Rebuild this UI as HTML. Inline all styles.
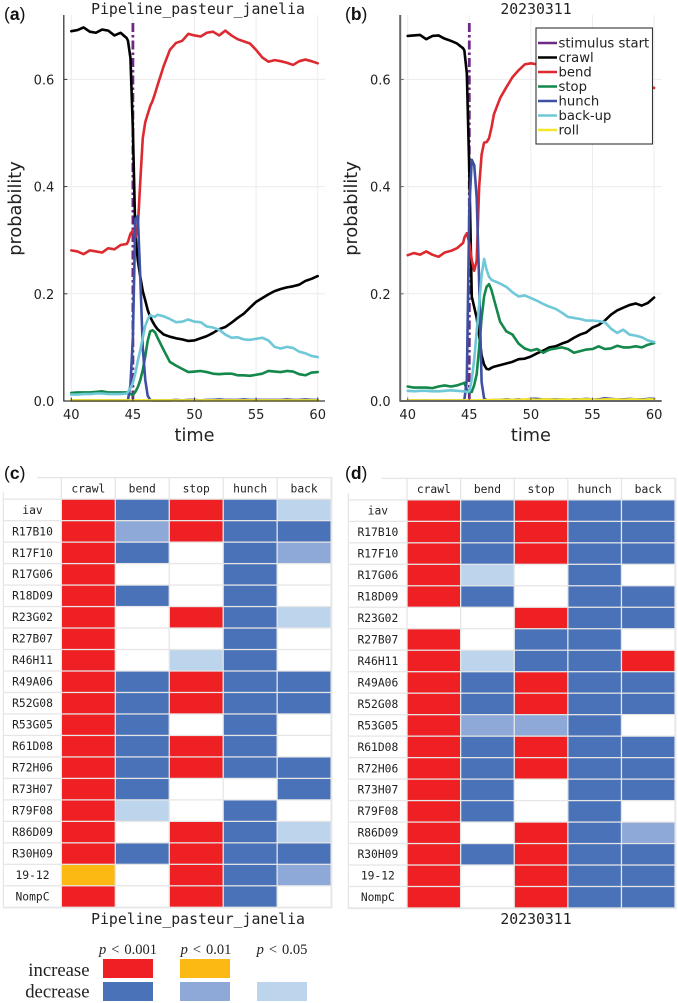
<!DOCTYPE html>
<html lang="en">
<head>
<meta charset="utf-8">
<title>Behaviour probability over time and significance tables</title>
<style>
html,body{margin:0;padding:0;background:#fff;width:678px;height:1003px;overflow:hidden}
svg{display:block;filter:blur(0.3px)}
.tick{font-family:"DejaVu Sans",sans-serif;font-size:13px;fill:#222}
.axis-title{font-family:"DejaVu Sans",sans-serif;font-size:17.7px;fill:#222}
.mono-title{font-family:"DejaVu Sans Mono",monospace;font-size:14.8px;fill:#222}
.mono{font-family:"DejaVu Sans Mono",monospace;font-size:11.3px;fill:#222}
.legend-text{font-family:"DejaVu Sans",sans-serif;font-size:13.2px;fill:#222}
.panel{font-family:"Liberation Sans",sans-serif;font-size:17.5px;fill:#111}
.panel tspan.b{font-weight:bold}
.key-row{font-family:"Liberation Serif",serif;font-size:18.7px;fill:#222}
.key-col{font-family:"Liberation Serif",serif;font-size:14.5px;fill:#222}
</style>
</head>
<body>
<svg id="figure" xmlns="http://www.w3.org/2000/svg" width="678" height="1003" viewBox="0 0 678 1003">
  <rect width="678" height="1003" fill="#ffffff"/>
  <text class="panel" x="4" y="20">(<tspan class="b">a</tspan>)</text>
  <text class="panel" x="345" y="20">(<tspan class="b">b</tspan>)</text>
  <text class="panel" x="4" y="479">(<tspan class="b">c</tspan>)</text>
  <text class="panel" x="345" y="479">(<tspan class="b">d</tspan>)</text>
</svg>
<script>
const timeGrid = [40,40.5,41,41.5,42,42.5,43,43.5,44,44.5,
  44.6,44.8,45,45.2,45.4,45.6,45.8,46,46.2,46.4,46.6,46.8,47,
  47.5,48,48.5,49,49.5,50,50.5,51,51.5,52,52.5,53,53.5,54,54.5,55,55.5,56,56.5,57,57.5,58,58.5,59,59.5,60];
const xTickValues = [40,45,50,55,60];
const yTickValues = [0,0.2,0.4,0.6];
const yTickLabels = ['0.0','0.2','0.4','0.6'];
const stimulusStart = 45;

const panelACrawl = [.690,.692,.697,.689,.687,.693,.691,.682,.687,.677,
  .672,.640,.505,.310,.262,.232,.205,.188,.170,.157,.148,.140,.134,
  .124,.120,.117,.115,.112,.113,.117,.121,.127,.134,.138,.146,.155,.163,.174,.185,.192,.199,.205,.209,.212,.214,.217,.224,.228,.233];
const panelABend = [.281,.279,.274,.281,.279,.277,.285,.283,.291,.293,
  .297,.312,.318,.305,.325,.41,.49,.52,.535,.55,.56,.574,.589,
  .625,.655,.668,.672,.685,.682,.680,.687,.689,.682,.691,.682,.675,.671,.667,.655,.641,.633,.636,.634,.631,.627,.634,.637,.634,.630];
const panelAStop = [.015,.016,.016,.016,.017,.018,.016,.016,.016,.016,
  .015,.013,.011,.017,.026,.039,.058,.083,.112,.130,.132,.128,.118,
  .095,.073,.066,.060,.054,.055,.056,.054,.051,.050,.051,.051,.048,.048,.047,.049,.051,.056,.055,.054,.056,.055,.050,.048,.053,.054];
const panelAHunch = [.001,.001,.001,.001,.001,.001,.001,.001,.001,.001,
  .002,.03,.12,.34,.345,.23,.10,.04,.01,.002,.001,.001,.001,
  .001,.001,.002,.001,.002,.002,.001,.002,.002,.003,.002,.002,.002,.003,.002,.002,.002,.002,.002,.002,.003,.002,.002,.003,.002,.002];
const panelABackUp = [.012,.012,.013,.013,.014,.014,.013,.013,.013,.014,
  .017,.024,.034,.052,.075,.095,.118,.140,.152,.160,.158,.157,.161,
  .158,.153,.147,.148,.152,.148,.147,.139,.137,.133,.124,.118,.119,.115,.114,.116,.118,.113,.101,.098,.101,.099,.092,.089,.084,.082];
const panelARoll = [.001,.001,.001,.001,.001,.001,.001,.001,.001,.001,
  .001,.001,.001,.001,.001,.001,.001,.001,.001,.001,.001,.001,.001,
  .001,.001,.001,.001,.001,.001,.001,.001,.001,.001,.001,.001,.001,.001,.001,.001,.001,.001,.001,.001,.001,.001,.001,.001,.001,.001];

const panelBCrawl = [.681,.682,.683,.675,.681,.682,.676,.672,.667,.658,
  .654,.611,.43,.195,.175,.155,.122,.085,.068,.06,.059,.062,.064,
  .067,.070,.073,.078,.079,.083,.089,.094,.100,.102,.107,.111,.118,.124,.128,.137,.142,.150,.161,.169,.174,.179,.182,.178,.183,.193];
const panelBBend = [.272,.276,.273,.279,.273,.269,.277,.280,.285,.295,
  .305,.313,.295,.263,.243,.262,.40,.46,.482,.483,.49,.51,.535,
  .565,.585,.604,.617,.628,.630,.628,.632,.629,.625,.620,.618,.615,.612,.610,.606,.605,.600,.598,.600,.596,.594,.590,.592,.588,.584];
const panelBStop = [.027,.025,.025,.025,.024,.027,.029,.027,.029,.033,
  .034,.021,.016,.017,.03,.05,.10,.155,.195,.213,.218,.207,.19,
  .148,.130,.124,.107,.098,.094,.097,.090,.096,.098,.100,.097,.090,.093,.096,.097,.102,.097,.098,.103,.100,.100,.102,.100,.105,.108];
const panelBHunch = [.001,.001,.001,.001,.001,.001,.001,.001,.001,.001,
  .002,.04,.36,.45,.44,.38,.22,.035,.005,.002,.001,.001,.002,
  .002,.003,.002,.003,.002,.004,.004,.003,.003,.003,.003,.002,.003,.003,.004,.003,.003,.005,.004,.003,.003,.004,.003,.003,.004,.004];
const panelBBackUp = [.019,.018,.019,.019,.018,.018,.019,.020,.019,.018,
  .018,.017,.018,.040,.078,.130,.180,.235,.265,.245,.232,.226,.224,
  .219,.213,.203,.195,.197,.192,.187,.181,.176,.172,.165,.157,.155,.153,.150,.150,.149,.147,.135,.127,.133,.124,.122,.119,.113,.110];
const panelBRoll = [.001,.001,.001,.001,.001,.001,.001,.001,.001,.001,
  .001,.001,.001,.001,.001,.001,.001,.001,.001,.002,.002,.002,.002,
  .002,.002,.002,.002,.003,.003,.002,.003,.003,.002,.003,.003,.002,.003,.003,.003,.002,.003,.003,.003,.002,.003,.003,.002,.003,.003];

const legendLabels = ['stimulus start','crawl','bend','stop','hunch','back-up','roll'];
const seriesColors = ['#6d2a84','#000000','#dc2a30','#14874a','#3e50a2','#6fc8d8','#f4e62a'];

const columnNames = ['crawl','bend','stop','hunch','back'];
const rowNames = ['iav','R17B10','R17F10','R17G06','R18D09','R23G02','R27B07','R46H11','R49A06','R52G08','R53G05','R61D08','R72H06','R73H07','R79F08','R86D09','R30H09','19-12','NompC'];
const tableC = [
  [3,-3,3,-3,-1],[3,-2,3,-3,-3],[3,-3,0,-3,-2],[3,0,0,-3,0],[3,-3,0,-3,0],[3,0,3,-3,-1],[3,0,0,-3,0],[3,0,-1,-3,0],
  [3,-3,3,-3,-3],[3,-3,3,-3,-3],[3,-3,0,-3,0],[3,-3,3,-3,0],[3,-3,3,-3,-3],[3,-3,0,0,-3],[3,-1,0,-3,0],[3,0,3,-3,-1],
  [3,-3,3,-3,-3],[2,0,3,-3,-2],[3,0,3,-3,0]];
const tableD = [
  [3,-3,3,-3,-3],[3,-3,3,-3,-3],[3,-3,3,-3,-3],[3,-1,0,-3,0],[3,-3,0,-3,-3],[0,0,3,-3,-3],[3,0,-3,-3,0],[3,-1,-3,-3,3],
  [3,-3,3,-3,-3],[3,-3,3,-3,-3],[3,-2,-2,-3,0],[3,-3,3,-3,-3],[3,-3,3,-3,-3],[3,-3,0,-3,-3],[3,-3,0,-3,0],[3,0,3,-3,-2],
  [3,-3,3,-3,-3],[3,0,3,-3,-3],[3,0,3,-3,-3]];

const NS = 'http://www.w3.org/2000/svg';
const svg = document.getElementById('figure');
function mk(tag, attrs, parent) {
  const e = document.createElementNS(NS, tag);
  for (const k in attrs) e.setAttribute(k, attrs[k]);
  (parent || svg).appendChild(e);
  return e;
}
function cellColor(code) {
  if (code === 3) return '#ee2024';
  if (code === 2) return '#fdb913';
  if (code === -3) return '#4a72b8';
  if (code === -2) return '#8ea8d8';
  if (code === -1) return '#bcd5ec';
  return '#ffffff';
}

function drawLinePanel(id, cfg, series) {
  const g = mk('g', {});
  
  
  const xScale = t => cfg.x40 + (t - 40) * 12.32;
  const yScale = v => 401 - 536 * v;

  xTickValues.forEach(t => {
    const line = mk('line', {x1: xScale(t), x2: xScale(t), y1: 15, y2: 401, stroke: '#ececec', 'stroke-width': 1}, g);
    
    
  });
  yTickValues.forEach(v => {
    const line = mk('line', {x1: cfg.axisX, x2: cfg.axisRight, y1: yScale(v), y2: yScale(v), stroke: '#ececec', 'stroke-width': 1}, g);
    
    
  });

  const stim = mk('line', {x1: xScale(stimulusStart), x2: xScale(stimulusStart), y1: 23, y2: 401, stroke: seriesColors[0], 'stroke-width': 2.8, 'stroke-dasharray': '9 3 2.5 3'}, g);
  
  

  series.forEach((values, i) => {
    const d = values.map((v, j) => (j ? 'L' : 'M') + xScale(timeGrid[j]).toFixed(2) + ' ' + yScale(v).toFixed(2)).join('');
    const p = mk('path', {d: d, fill: 'none', stroke: seriesColors[i + 1], 'stroke-width': 2.6, 'stroke-linejoin': 'round', 'stroke-linecap': 'round'}, g);
    
    
  });

  const yAxis = mk('line', {x1: cfg.axisX, x2: cfg.axisX, y1: 15, y2: 401.6, stroke: cfg.axisColor, 'stroke-width': cfg.axisWidth}, g);
  
  
  const xAxis = mk('line', {x1: cfg.axisX, x2: cfg.axisRight, y1: 401, y2: 401, stroke: cfg.axisColor, 'stroke-width': cfg.axisWidth}, g);
  
  

  xTickValues.forEach(t => {
    const tick = mk('line', {x1: xScale(t), x2: xScale(t), y1: 401, y2: 397.5, stroke: cfg.axisColor, 'stroke-width': 1}, g);
    
    
    const lab = mk('text', {x: xScale(t), y: 419, 'text-anchor': 'middle', class: 'tick'}, g);
    
    
    lab.textContent = String(t);
  });
  yTickValues.forEach((v, i) => {
    const tick = mk('line', {x1: cfg.axisX, x2: cfg.axisX + 3.5, y1: yScale(v), y2: yScale(v), stroke: cfg.axisColor, 'stroke-width': 1}, g);
    
    
    const lab = mk('text', {x: cfg.axisX - 9.5, y: yScale(v) + 5, 'text-anchor': 'end', class: 'tick'}, g);
    
    
    lab.textContent = yTickLabels[i];
  });

  const xTitle = mk('text', {x: xScale(50), y: 441, 'text-anchor': 'middle', class: 'axis-title'}, g);
  
  
  xTitle.textContent = 'time';

  const yTitle = mk('text', {x: 0, y: 0, 'text-anchor': 'middle', class: 'axis-title', transform: 'translate(' + cfg.yTitleX + ' 208.5) rotate(-90)'}, g);
  
  
  yTitle.textContent = 'probability';

  const title = mk('text', {x: cfg.titleX, y: 14, 'text-anchor': 'middle', class: 'mono-title'}, g);
  
  
  title.textContent = cfg.title;
}

function drawLegend() {
  const g = mk('g', {});
  
  
  const box = mk('rect', {x: 536, y: 28, width: 116.5, height: 116, fill: '#fff', stroke: '#333', 'stroke-width': 1.1}, g);
  
  
  legendLabels.forEach((name, i) => {
    const y = 43 + i * 14.5;
    const sw = mk('line', {x1: 538, x2: 557, y1: y, y2: y, stroke: seriesColors[i], 'stroke-width': 2.6}, g);
    
    
    const t = mk('text', {x: 558.5, y: y + 4.6, class: 'legend-text'}, g);
    
    
    t.textContent = name;
  });
}

function drawTable(id, cfg, matrix) {
  const g = mk('g', {});
  
  
  const colX = c => cfg.colLeft + c * cfg.colPitch;
  const rowY = r => cfg.rowTop + r * 21.48;
  const cellW = cfg.colPitch - 1.3;
  const cellH = 20.2;
  const right = colX(columnNames.length) + 0.6;
  const bottom = rowY(rowNames.length) + 0.5;

  const bg = mk('rect', {x: cfg.labelLeft - 1.3, y: rowY(0) - 1.3, width: right - cfg.labelLeft + 1.3, height: bottom - rowY(0) + 1.3, fill: '#e6e6e6'}, g);
  
  
  const hb = mk('rect', {x: colX(0) - 1.3, y: rowY(-1) - 1.3, width: right - colX(0) + 1.3, height: 22.7, fill: '#e6e6e6'}, g);
  
  
  const topLine = mk('rect', {x: cfg.labelLeft + 33, y: rowY(-1) - 1.3, width: colX(0) - cfg.labelLeft - 33, height: 1.3, fill: '#e6e6e6'}, g);
  
  
  const leftLine = mk('rect', {x: cfg.labelLeft - 1.3, y: rowY(-1) + 14, width: 1.3, height: 8, fill: '#e6e6e6'}, g);
  
  

  columnNames.forEach((name, c) => {
    const h = mk('rect', {x: colX(c), y: rowY(-1), width: cellW, height: cellH, fill: '#fff'}, g);
    
    
    const t = mk('text', {x: colX(c) + cellW / 2, y: rowY(-1) + 14, 'text-anchor': 'middle', class: 'mono'}, g);
    
    
    t.textContent = name;
  });
  rowNames.forEach((name, r) => {
    const lc = mk('rect', {x: cfg.labelLeft, y: rowY(r), width: colX(0) - cfg.labelLeft - 1.3, height: cellH, fill: '#fff'}, g);
    
    
    const t = mk('text', {x: (cfg.labelLeft + colX(0)) / 2 - 0.5, y: rowY(r) + 14, 'text-anchor': 'middle', class: 'mono'}, g);
    
    
    t.textContent = name;
    matrix[r].forEach((code, c) => {
      const cell = mk('rect', {x: colX(c), y: rowY(r), width: cellW, height: cellH, fill: cellColor(code)}, g);
      
      
    });
  });
  const title = mk('text', {x: cfg.titleX, y: 924, 'text-anchor': 'middle', class: 'mono-title'}, g);
  
  
  title.textContent = cfg.title;
}

function drawKey() {
  const g = mk('g', {});
  
  
  const cols = [{x: 103, lab: '0.001', tx: 128}, {x: 180, lab: '0.01', tx: 206}, {x: 257, lab: '0.05', tx: 282}];
  cols.forEach(c => {
    const t = mk('text', {x: c.tx, y: 954, 'text-anchor': 'middle', class: 'key-col', 'xml:space': 'preserve'}, g);
    
    
    const it = mk('tspan', {'font-style': 'italic'}, t);
    it.textContent = 'p';
    const rest = mk('tspan', {dx: 5}, t);
    rest.textContent = '<';
    const v = mk('tspan', {dx: 5}, t);
    v.textContent = c.lab;
  });
  const rows = [{name: 'increase', y: 959, base: 976, codes: [3, 2, null]}, {name: 'decrease', y: 982, base: 997.5, codes: [-3, -2, -1]}];
  rows.forEach(r => {
    const t = mk('text', {x: 89.5, y: r.base, 'text-anchor': 'end', class: 'key-row'}, g);
    
    
    t.textContent = r.name;
    r.codes.forEach((code, i) => {
      if (code === null) return;
      const s = mk('rect', {x: cols[i].x, y: r.y, width: 50, height: 19, fill: cellColor(code)}, g);
      
      
    });
  });
}

drawLinePanel('a', {x40: 71.3, axisX: 63.8, axisRight: 325, axisColor: '#3a3a3a', axisWidth: 1.3, yTitleX: 21, titleX: 198, title: 'Pipeline_pasteur_janelia'},
  [panelACrawl, panelABend, panelAStop, panelAHunch, panelABackUp, panelARoll]);
drawLinePanel('b', {x40: 407.7, axisX: 400.2, axisRight: 661.7, axisColor: '#666666', axisWidth: 2, yTitleX: 357, titleX: 536, title: '20230311'},
  [panelBCrawl, panelBBend, panelBStop, panelBHunch, panelBBackUp, panelBRoll]);
drawLegend();
drawTable('c', {labelLeft: 4, colLeft: 62, colPitch: 53.95, rowTop: 499.8, titleX: 198, title: 'Pipeline_pasteur_janelia'}, tableC);
drawTable('d', {labelLeft: 349, colLeft: 407.7, colPitch: 53.6, rowTop: 500.5, titleX: 536, title: '20230311'}, tableD);
drawKey();
</script>
</body>
</html>
